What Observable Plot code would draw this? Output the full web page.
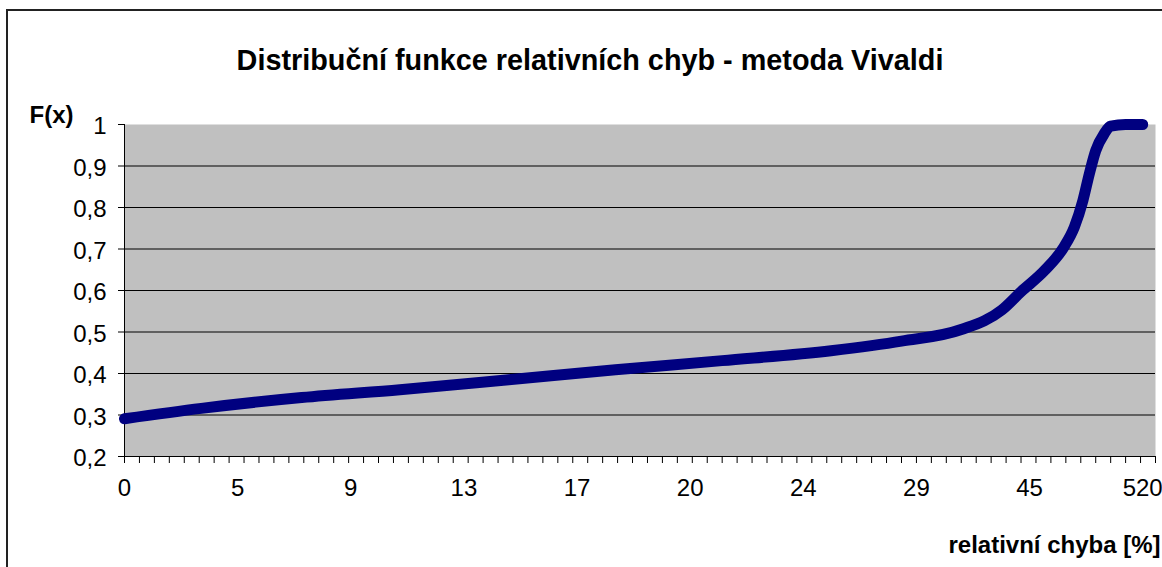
<!DOCTYPE html>
<html>
<head>
<meta charset="utf-8">
<script src="https://cdn.jsdelivr.net/npm/d3@7"></script>
<script src="https://cdn.jsdelivr.net/npm/@observablehq/plot@0.6"></script>
<style>
  html, body { margin: 0; padding: 0; background: #fff; overflow: hidden; }
  #wrap { position: relative; width: 1162px; height: 567px; }
  #border { position: absolute; left: 6px; top: 9px; width: 2000px; height: 2000px;
            border-left: 2px solid #222; border-top: 2px solid #222; pointer-events: none; }
  #chart { position: absolute; left: 0; top: 0; }
</style>
</head>
<body>
<div id="wrap"><div id="chart"></div><div id="border"></div></div>
<script>
// ---- data ----
const titleText = "Distribuční funkce relativních chyb - metoda Vivaldi";
const yAxisTitle = "F(x)";
const xAxisTitle = "relativní chyba [%]";
// category rank of the sorted error (x) and cumulative share F(x)
const categoryRank = [0, 36, 83, 129, 180, 230, 280, 331, 364, 392, 411, 420, 431, 440, 445, 449, 452, 455, 459, 462, 469, 477];
const fValues      = [0.291, 0.316, 0.342, 0.361, 0.385, 0.409, 0.431, 0.455, 0.478, 0.506, 0.553, 0.597, 0.648, 0.704, 0.753, 0.817, 0.881, 0.937, 0.978, 0.996, 1.0, 1.0];
// category axis: labels every 53 categories, tick marks every 7
const xLabels = ["0", "5", "9", "13", "17", "20", "24", "29", "45", "520"];
const labelStep = 53;
const tickStep = 7;
const categoryCount = 483;
const yTicks = [0.2, 0.3, 0.4, 0.5, 0.6, 0.7, 0.8, 0.9, 1];
const yGrid = [0.3, 0.4, 0.5, 0.6, 0.7, 0.8, 0.9];

const points = categoryRank.map((r, i) => ({r, f: fValues[i]}));
const labelPos = xLabels.map((_, i) => i * labelStep);
const tickPos = d3.range(0, categoryCount + 1, tickStep);
const fmt = d => String(d).replace(".", ",");

const chart = Plot.plot({
  width: 1162,
  height: 567,
  marginLeft: 124,
  marginRight: 7,
  marginTop: 124,
  marginBottom: 111,
  style: {fontFamily: "'Liberation Sans', Arial, sans-serif", fontSize: "24px", color: "#000", background: "transparent"},
  x: {domain: [0, categoryCount], axis: null},
  y: {domain: [0.2, 1], axis: null},
  marks: [
    Plot.frame({fill: "#c0c0c0", stroke: "none"}),
    Plot.ruleY(yGrid, {stroke: "#000", strokeWidth: 1}),
    Plot.axisY({ticks: yTicks, tickSize: 6, tickFormat: () => "", label: null, stroke: "#000"}),
    Plot.axisX({ticks: tickPos, tickSize: 7, tickFormat: () => "", label: null, stroke: "#000"}),
    Plot.ruleX([0], {stroke: "#000", strokeWidth: 1}),
    Plot.ruleY([0.2], {stroke: "#000", strokeWidth: 1}),
    Plot.text(yTicks, {x: 0, y: d => d, text: fmt, textAnchor: "end", dx: -18, dy: 2, fontSize: 24, fill: "#000"}),
    Plot.text(labelPos, {x: d => d, text: (d, i) => xLabels[i], frameAnchor: "bottom", dy: 39, fontSize: 24, fill: "#000"}),
    Plot.line(points, {x: "r", y: "f", stroke: "#000080", strokeWidth: 11, curve: "monotone-x",
                       strokeLinecap: "round", strokeLinejoin: "round"}),
    Plot.text([titleText], {frameAnchor: "top", dx: -50, dy: -75, fontSize: 28.8, fontWeight: "bold", fill: "#000"}),
    Plot.text([yAxisTitle], {frameAnchor: "top-left", textAnchor: "start", dx: -95, dy: -19, fontSize: 24, fontWeight: "bold", fill: "#000"}),
    Plot.text([xAxisTitle], {frameAnchor: "bottom-right", textAnchor: "end", dx: 5, dy: 96, fontSize: 24, fontWeight: "bold", fill: "#000"})
  ]
});
document.getElementById("chart").appendChild(chart);
</script>
</body>
</html>
